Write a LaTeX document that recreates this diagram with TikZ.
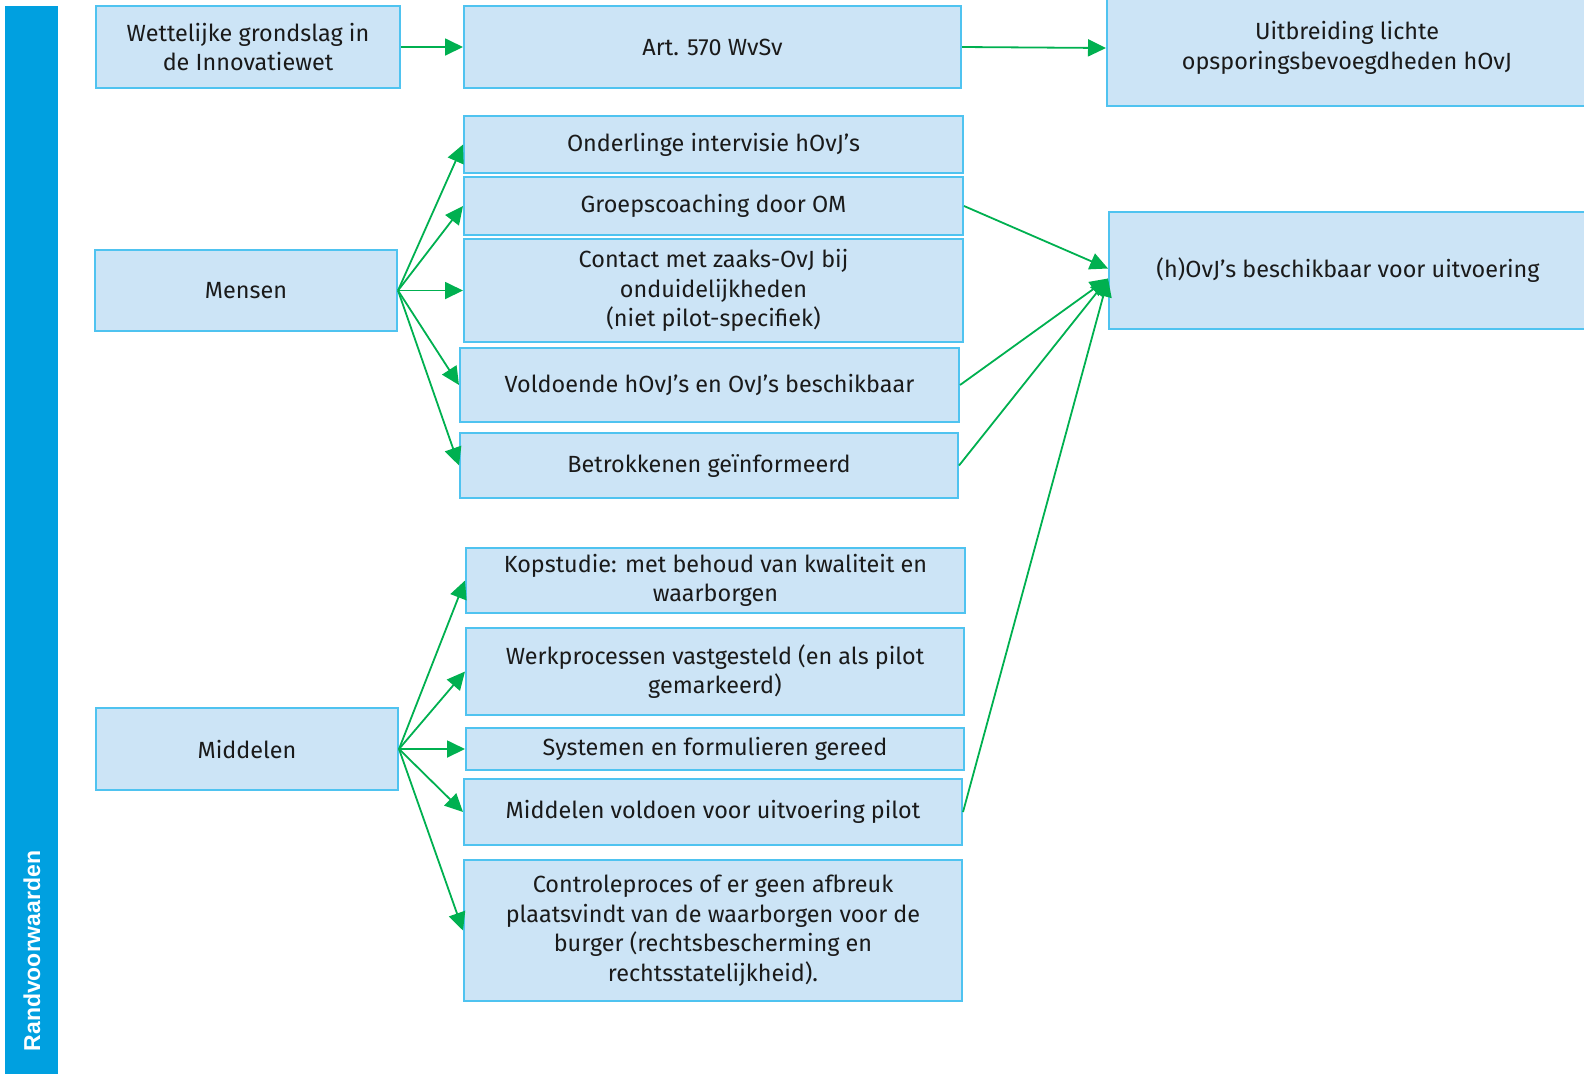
\documentclass[tikz,border=0pt]{standalone}
\usepackage{fontspec}
\setmainfont{Fira Sans}
\newfontfamily\sidefont{Liberation Sans}
\usetikzlibrary{arrows.meta}
\definecolor{boxc}{HTML}{CCE4F6}
\definecolor{bordc}{HTML}{4FC3F0}
\definecolor{barc}{HTML}{00A0E0}
\definecolor{grn}{HTML}{00B050}
\definecolor{txtc}{HTML}{1A1A1A}
\begin{document}
\begin{tikzpicture}[x=0.5pt,y=-0.5pt,
  box/.style={draw=bordc, fill=boxc, line width=1pt, align=center, inner sep=0pt, text=txtc,
    font=\fontsize{11.7}{14.75}\selectfont},
  arr/.style={draw=grn, line width=0.9pt, -{Triangle[length=9pt,width=8.5pt]}}]
\useasboundingbox (0,0) rectangle (1584,1073);
\fill[barc] (5,6) rectangle (58,1080);
\node[rotate=90, text=white, font=\sidefont\bfseries\fontsize{11.5}{13}\selectfont, inner sep=0pt] (side) at (32,951) {Randvoorwaarden};

\node[box, minimum width=152pt, minimum height=41pt] (wet) at (248,47) {Wettelijke grondslag in\\de Innovatiewet};
\node[box, minimum width=248.5pt, minimum height=41pt] (art) at (712.5,47) {Art. 570 WvSv};
\node[box, minimum width=240pt, minimum height=58pt] (uit) at (1347,48) {Uitbreiding lichte\\opsporingsbevoegdheden hOvJ};
\node[box, minimum width=239pt, minimum height=58.5pt] (hovj) at (1348,270.5) {(h)OvJ’s beschikbaar voor uitvoering};

\node[box, minimum width=151pt, minimum height=40.5pt] (mensen) at (246,290.5) {Mensen};
\node[box, minimum width=249.5pt, minimum height=28.5pt] (onder) at (713.5,144.5) {Onderlinge intervisie hOvJ’s};
\node[box, minimum width=249.5pt, minimum height=29pt] (groep) at (713.5,206) {Groepscoaching door OM};
\node[box, minimum width=249.5pt, minimum height=51.5pt] (contact) at (713.5,290.5) {Contact met zaaks-OvJ bij\\onduidelijkheden\\(niet pilot-specifiek)};
\node[box, minimum width=249.5pt, minimum height=37pt] (vold) at (709.5,385) {Voldoende hOvJ’s en OvJ’s beschikbaar};
\node[box, minimum width=249pt, minimum height=32.5pt] (betr) at (709,465.5) {Betrokkenen geïnformeerd};

\node[box, minimum width=151pt, minimum height=41pt] (middelen) at (247,749) {Middelen};
\node[box, minimum width=249.5pt, minimum height=32.5pt] (kop) at (715.5,580.5) {Kopstudie: met behoud van kwaliteit en\\waarborgen};
\node[box, minimum width=249pt, minimum height=43.5pt] (werk) at (715,671.5) {Werkprocessen vastgesteld (en als pilot\\gemarkeerd)};
\node[box, minimum width=249pt, minimum height=21pt] (sys) at (715,749) {Systemen en formulieren gereed};
\node[box, minimum width=249pt, minimum height=33pt] (midv) at (713,812) {Middelen voldoen voor uitvoering pilot};
\node[box, minimum width=249pt, minimum height=70.5pt] (ctrl) at (713,930.5) {Controleproces of er geen afbreuk\\plaatsvindt van de waarborgen voor de\\burger (rechtsbescherming en\\rechtsstatelijkheid).};

\draw[arr] (wet.east) -- (art.west);
\draw[arr] (art.east) -- (uit.west);
\foreach \t in {onder,groep,contact,vold,betr} \draw[arr] (mensen.east) -- (\t.west);
\foreach \t in {kop,werk,sys,midv,ctrl} \draw[arr] (middelen.east) -- (\t.west);
\draw[arr] (groep.east) -- ([yshift=1pt]hovj.west);
\foreach \t in {vold,betr,midv} \draw[arr] (\t.east) -- ([yshift=-4pt]hovj.west);
\end{tikzpicture}
\end{document}
